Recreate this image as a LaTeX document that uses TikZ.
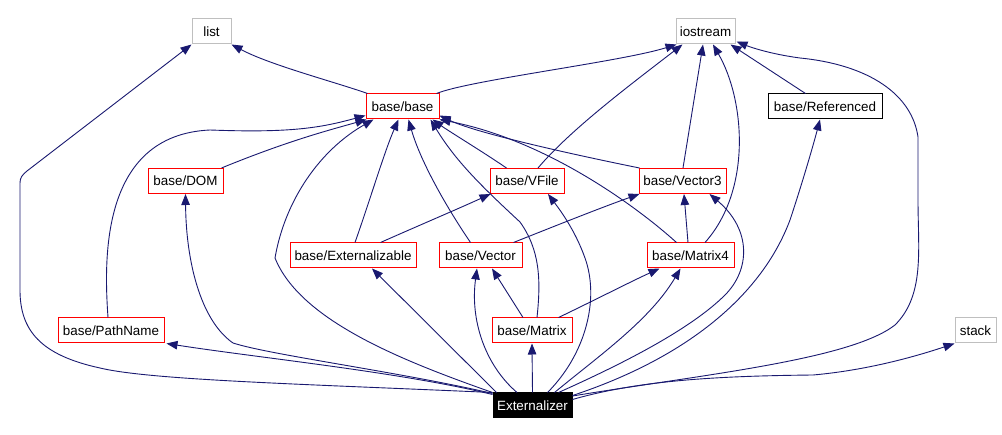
\documentclass[tikz,border=0pt]{standalone}
\usepackage{fontspec}
\setmainfont{Liberation Sans}
\usetikzlibrary{arrows.meta,calc}
\definecolor{edgeblue}{HTML}{191970}
\definecolor{nodered}{HTML}{FF0000}
\definecolor{nodegray}{HTML}{BFBFBF}
\begin{document}
\begin{tikzpicture}[x=1pt,y=-1pt,
  box/.style={draw, line width=1pt, inner sep=0pt, minimum height=25pt, font=\fontsize{13.4}{16}\selectfont},
  redbox/.style={box, draw=nodered},
  graybox/.style={box, draw=nodegray},
  blackbox/.style={box, draw=black},
  rootbox/.style={box, draw=black, fill=black, text=white},
  edge/.style={draw=edgeblue, line width=0.9pt, -{Triangle[length=11pt,width=8.5pt]}}
]
\useasboundingbox[fill=white] (0,0) rectangle (1002,435);
% nodes
\node[graybox, minimum width=39pt] (list) at (211.5,31.5) {list};
\node[graybox, minimum width=59pt] (io) at (705.5,31.5) {iostream};
\node[redbox, minimum width=73pt] (bb) at (402.5,106.5) {base/base};
\node[blackbox, minimum width=114pt] (ref) at (825,106.5) {base/Referenced};
\node[redbox, minimum width=75pt] (dom) at (185.5,181) {base/DOM};
\node[redbox, minimum width=74pt] (vfile) at (527,181) {base/VFile};
\node[redbox, minimum width=87pt] (v3) at (682.5,181) {base/Vector3};
\node[redbox, minimum width=126pt] (ext) at (353,255.5) {base/Externalizable};
\node[redbox, minimum width=83pt] (vec) at (480.5,255.5) {base/Vector};
\node[redbox, minimum width=87pt] (m4) at (690.5,255.5) {base/Matrix4};
\node[redbox, minimum width=106pt] (path) at (111,330.5) {base/PathName};
\node[redbox, minimum width=80pt] (mat) at (532,330.5) {base/Matrix};
\node[graybox, minimum width=41pt] (stack) at (975.5,330.5) {stack};
\node[rootbox, minimum width=79pt] (er) at (532.5,405.5) {Externalizer};
% edges into list / iostream
\draw[edge] ($(bb.north west)+(2,0)$) .. controls (335,82) and (270,65) .. (list.south east);
\draw[edge] ($(bb.north east)+(-3,0)$) .. controls (470,80) and (620,62) .. ($(io.south west)+(1,0)$);
\draw[edge] ($(ref.north west)+(38,0)$) -- ($(io.south east)+(-5,0)$);
\draw[edge] ($(vfile.north)+(11,0)$) .. controls (570,130) and (630,85) .. ($(io.south west)+(7,0)$);
\draw[edge] ($(v3.north)+(0.5,0)$) -- ($(io.south)+(-2.5,0)$);
\draw[edge] ($(m4.north)+(14.5,0)$) .. controls (752,190) and (745,100) .. ($(io.south)+(7.5,0)$);
\draw[edge] ($(er.east)+(0,-9.5)$) .. controls (700,375) and (850,360) .. (895,325)
  .. controls (925,295) and (918,250) .. (918,200) -- (918,137)
  .. controls (912,95) and (870,65) .. (800,58)
  .. controls (770,54) and (750,47) .. ($(io.south east)+(1,-3)$);
\draw[edge] ($(er.west)+(0,-13)$) .. controls (300,384) and (150,380) .. (100,368)
  .. controls (40,355) and (20,330) .. (20,290) -- (20,183)
  .. controls (20,178) and (22,175) .. (27,171) -- (list.south west);
% edges into base/base
\draw[edge] ($(dom.north east)+(-2,0)$) .. controls (290,140) and (330,130) .. ($(bb.south west)+(1,0)$);
\draw[edge] ($(path.north)+(-3,0)$) .. controls (104,260) and (100,135) .. (210,130)
  .. controls (290,133) and (320,128) .. ($(bb.south west)+(0,-4)$);
\draw[edge] ($(ext.north)+(2,0)$) .. controls (370,200) and (385,150) .. ($(bb.south)+(-4,0)$);
\draw[edge] ($(vec.north)+(-10,0)$) .. controls (445,205) and (420,160) .. ($(bb.south)+(6,0)$);
\draw[edge] ($(vfile.north west)+(17,0)$) .. controls (480,150) and (450,132) .. ($(bb.south east)+(-7,0)$);
\draw[edge] ($(mat.north)+(5,0)$) .. controls (541,280) and (540,250) .. (520,222)
  .. controls (480,185) and (455,160) .. ($(bb.south east)+(-9,0)$);
\draw[edge] ($(v3.north west)+(1,0)$) .. controls (600,160) and (480,135) .. ($(bb.south east)+(0,-4)$);
\draw[edge] ($(m4.north west)+(30,0)$) .. controls (635,205) and (545,140) .. (bb.south east);
\draw[edge] (er.north west) .. controls (400,360) and (300,320) .. (275,258)
  .. controls (285,200) and (320,150) .. ($(bb.south west)+(8,0)$);
% second level
\draw[edge] ($(ext.north east)+(-36,0)$) .. controls (420,225) and (460,208) .. ($(vfile.south west)+(1,0)$);
\draw[edge] ($(vec.north east)+(-9,0)$) .. controls (550,228) and (600,208) .. ($(v3.south west)+(1,0)$);
\draw[edge] ($(m4.north)+(-2.5,0)$) -- ($(v3.south)+(1.5,0)$);
\draw[edge] ($(er.north east)+(-14,0)$) .. controls (620,365) and (690,330) .. (725,295)
  .. controls (750,270) and (752,230) .. ($(v3.south east)+(-17,0)$);
\draw[edge] ($(mat.north)+(-9,0)$) -- ($(vec.south)+(11.5,0)$);
\draw[edge] ($(mat.north east)+(-14,0)$) .. controls (595,300) and (630,282) .. ($(m4.south west)+(13,0)$);
\draw[edge] (er.north) -- (mat.south);
\draw[edge] ($(er.north)+(-15.5,0)$) .. controls (485,365) and (470,320) .. ($(vec.south)+(-3.5,0)$);
\draw[edge] ($(er.north west)+(4,0)$) -- ($(ext.south)+(19,0)$);
\draw[edge] ($(er.north west)+(0,1)$) .. controls (400,372) and (270,355) .. (233,343)
  .. controls (200,320) and (186,260) .. (dom.south);
\draw[edge] ($(er.north west)+(0,2)$) .. controls (400,372) and (260,358) .. ($(path.south east)+(2,0)$);
\draw[edge] ($(er.north east)+(-18,0)$) .. controls (600,355) and (650,320) .. ($(m4.south west)+(34,0)$);
\draw[edge] ($(er.north east)+(-25,0)$) .. controls (585,355) and (600,300) .. (585,258)
  .. controls (575,230) and (560,210) .. ($(vfile.south)+(21,0)$);
\draw[edge] ($(er.east)+(0,-10)$) .. controls (680,360) and (760,300) .. (790,220)
  .. controls (800,190) and (812,150) .. ($(ref.south)+(-5,0)$);
\draw[edge] ($(er.east)+(0,-6)$) .. controls (640,380) and (720,376) .. (813,375)
  .. controls (870,370) and (920,355) .. (stack.south west);
\end{tikzpicture}
\end{document}
